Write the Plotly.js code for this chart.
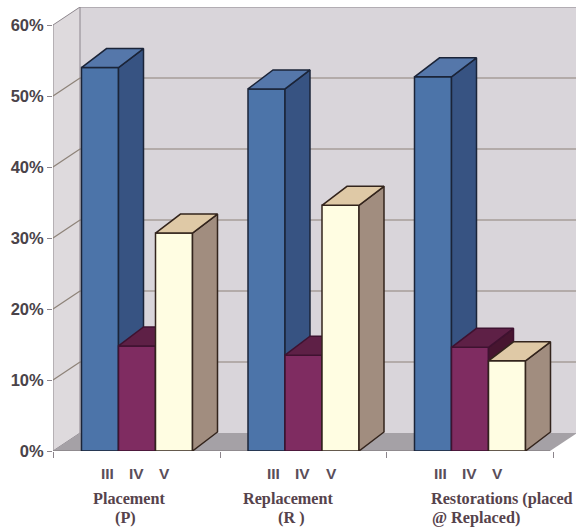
<!DOCTYPE html>
<html>
<head>
<meta charset="utf-8">
<script src="https://cdn.plot.ly/plotly-3.0.1.min.js"></script>
<style>html,body{margin:0;padding:0;background:#fff}#chart{width:576px;height:527px}</style>
</head>
<body>
<div id="chart"></div>
<script>
// Share of restorations by cavity class, per procedure group
const groupIndex = [0, 1, 2];
const classNames = ["III", "IV", "V"];
const classIII = [54, 51, 52.7];
const classIV = [14.8, 13.5, 14.6];
const classV = [30.7, 34.6, 12.7];
const yTicks = [0, 10, 20, 30, 40, 50, 60];
const yTickText = ["0%", "10%", "20%", "30%", "40%", "50%", "60%"];
const groupTicks = [-0.5, 0.5, 1.5, 2.5];

// One entry per text line: [label, centre x in pixels, centre y in pixels]
const groupLabelLines = [
  ["Placement", 129, 499], ["(P)", 125, 518],
  ["Replacement", 288, 499], ["(R )", 291, 518],
  ["Restorations (placed", 502, 499], ["@ Replaced)", 476, 518]
];

// Plot frame in pixels, and the scale of both axes
const W = 576, H = 527, L = 53, T = 7, B = 451;
const pxPerUnitX = 166.5, pxPerPct = 7.1, originX = 137;
const toX = px => (px - originX) / pxPerUnitX;
const xRange = [toX(L), toX(W)];
const yRange = [0, (B - T) / pxPerPct];

// Oblique depth of the box and of the bars
const wallDX = 27 / pxPerUnitX, wallDY = 18 / pxPerPct;
const barDX = 25 / pxPerUnitX, barDY = 19 / pxPerPct;
const barW = 37 / pxPerUnitX;
const maxY = 60;

const series = [
  {name: classNames[0], values: classIII, shift: -barW, front: "#4c74a9", side: "#375382", top: "#5577aa", edge: "#1b2438"},
  {name: classNames[1], values: classIV, shift: 0, front: "#7f2c61", side: "#471530", top: "#5e2046", edge: "#3f1230"},
  {name: classNames[2], values: classV, shift: barW, front: "#fffde2", side: "#a18d7f", top: "#dfc9a6", edge: "#33241c"}
];

const traces = [];
series.forEach((s, k) => {
  const ax = k === 0 ? "" : String(k + 1);
  const xa = "x" + ax, ya = "y" + ax;
  // Front faces are real bars; each series sits in its own overlaid subplot so it stacks over the previous one
  traces.push({
    type: "bar", name: s.name, xaxis: xa, yaxis: ya, showlegend: false,
    x: groupIndex.map(g => g + s.shift), y: s.values, width: barW,
    marker: {color: s.front, line: {color: s.edge, width: 1.5}}
  });
  groupIndex.forEach(g => {
    const left = g + s.shift - barW / 2, right = left + barW, v = s.values[g];
    const face = (xs, ys, color) => traces.push({
      type: "scatter", mode: "lines", xaxis: xa, yaxis: ya, showlegend: false,
      x: xs, y: ys, fill: "toself", fillcolor: color,
      line: {color: s.edge, width: 1.5}, hoverinfo: "skip"
    });
    face([right, right + barDX, right + barDX, right, right],
         [0, barDY, v + barDY, v, 0], s.side);
    face([left, right, right + barDX, left + barDX, left],
         [v, v, v + barDY, v + barDY, v], s.top);
  });
});

// Walls, floor and gridlines of the box
const x0 = toX(L), xEnd = toX(550);
const gridColor = "#8d8278", edgeColor = "#8c858c";
const shapes = [
  {type: "path", layer: "below", xref: "x", yref: "y", line: {width: 0}, fillcolor: "#d9d5da",
    path: `M${x0 + wallDX},${wallDY} L${xRange[1]},${wallDY} L${xRange[1]},${maxY + wallDY} L${x0 + wallDX},${maxY + wallDY} Z`},
  {type: "path", layer: "below", xref: "x", yref: "y", line: {color: edgeColor, width: 1}, fillcolor: "#dedadd",
    path: `M${x0},0 L${x0 + wallDX},${wallDY} L${x0 + wallDX},${maxY + wallDY} L${x0},${maxY} Z`},
  {type: "path", layer: "below", xref: "x", yref: "y", line: {width: 0}, fillcolor: "#a5a1a6",
    path: `M${x0},0 L${x0 + wallDX},${wallDY} L${xEnd + wallDX},${wallDY} L${xEnd},0 Z`},
  {type: "line", layer: "below", xref: "x", yref: "y", x0: x0 + wallDX, x1: xRange[1],
    y0: maxY + wallDY, y1: maxY + wallDY, line: {color: edgeColor, width: 1}},
  {type: "line", layer: "below", xref: "x", yref: "y", x0: x0, x1: xEnd, y0: 0, y1: 0,
    line: {color: "#7d7678", width: 1.2}}
];
yTicks.slice(1, -1).forEach(v => {
  shapes.push({type: "line", layer: "below", xref: "x", yref: "y", x0: x0 + wallDX, x1: xRange[1],
    y0: v + wallDY, y1: v + wallDY, line: {color: gridColor, width: 1.2}});
  shapes.push({type: "line", layer: "below", xref: "x", yref: "y", x0: x0, x1: x0 + wallDX,
    y0: v, y1: v + wallDY, line: {color: gridColor, width: 1.2}});
});

// Class labels under each group, then the wrapped group names
const pixelY = py => (B - py) / (B - T);
const annotations = [];
groupIndex.forEach(g => {
  classNames.forEach((name, k) => annotations.push({
    text: "<b>" + name + "</b>", xref: "x", yref: "paper", x: g - 1 / pxPerUnitX + (k - 1) * 0.174, y: pixelY(473),
    showarrow: false, xanchor: "center", yanchor: "middle",
    font: {family: "Liberation Sans, Arial, sans-serif", size: 15.5, color: "#5a4e5a"}
  }));
});
groupLabelLines.forEach(line => annotations.push({
  text: "<b>" + line[0] + "</b>", xref: "x", yref: "paper", x: toX(line[1]), y: pixelY(line[2]),
  showarrow: false, xanchor: "center", yanchor: "middle",
  font: {family: "Liberation Serif, Times New Roman, serif", size: 16.2, color: "#56434c"}
}));

const hiddenAxis = (overlay, range) => ({overlaying: overlay, range: range, visible: false, fixedrange: true});

const layout = {
  width: W, height: H, autosize: false,
  margin: {l: L, r: W - W, t: T, b: H - B, pad: 0},
  paper_bgcolor: "#ffffff", plot_bgcolor: "rgba(0,0,0,0)",
  barmode: "overlay", showlegend: false,
  xaxis: {
    range: xRange, tickmode: "array", tickvals: groupTicks, showticklabels: false,
    ticks: "outside", ticklen: 6, tickcolor: "#8c858c", tickwidth: 1,
    showgrid: false, zeroline: false, showline: false, fixedrange: true
  },
  yaxis: {
    range: yRange, tickmode: "array", tickvals: yTicks, ticktext: yTickText,
    ticks: "outside", ticklen: 5, tickcolor: "#8c858c", tickwidth: 1,
    showgrid: false, zeroline: false, showline: false, fixedrange: true,
    tickfont: {family: "Liberation Sans, Arial, sans-serif", size: 16.5, color: "#4a4349", weight: 700}
  },
  xaxis2: hiddenAxis("x", xRange), yaxis2: hiddenAxis("y", yRange),
  xaxis3: hiddenAxis("x", xRange), yaxis3: hiddenAxis("y", yRange),
  shapes: shapes, annotations: annotations
};

Plotly.newPlot("chart", traces, layout, {displayModeBar: false, staticPlot: true});
</script>
</body>
</html>
